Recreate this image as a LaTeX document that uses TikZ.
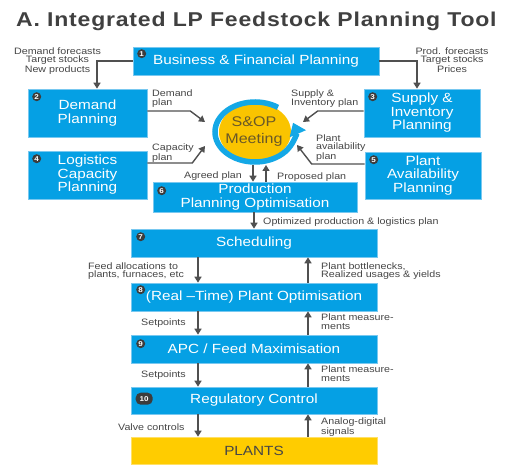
\documentclass[tikz,border=0pt]{standalone}
\usepackage{fontspec}
\setmainfont{Liberation Sans}[FakeStretch=1.15]
\newfontfamily\titlefont{Liberation Sans}[FakeStretch=1.15,LetterSpace=4]
\usetikzlibrary{arrows.meta,calc}
\definecolor{boxblue}{RGB}{5,160,228}
\definecolor{boxedge}{RGB}{120,200,240}
\definecolor{ringblue}{RGB}{20,168,230}
\definecolor{sopyellow}{RGB}{250,196,0}
\definecolor{plantyellow}{RGB}{255,204,0}
\definecolor{arrgray}{RGB}{80,80,80}
\definecolor{lblgray}{RGB}{70,70,70}
\definecolor{titlegray}{RGB}{64,64,64}
\definecolor{soptext}{RGB}{105,88,40}
\definecolor{badgegray}{RGB}{60,60,60}
\tikzset{
  box/.style={rectangle, fill=boxblue, draw=boxedge, line width=0.6pt, text=white,
    align=center, inner sep=0pt, font=\fontsize{13.3}{13.5}\selectfont},
  badge/.style={circle, fill=badgegray, text=white, inner sep=0pt, minimum size=9pt,
    font=\fontsize{7}{7}\selectfont\bfseries},
  lbl/.style={inner sep=0pt, text=lblgray, align=left, font=\fontsize{9.3}{8.5}\selectfont},
  arr/.style={draw=arrgray, line width=1.4pt, -{Triangle[length=6pt,width=7pt]}},
}
\begin{document}
\begin{tikzpicture}[x=1pt,y=-1pt]
\fill[white] (0,0) rectangle (509,473);
\useasboundingbox (0,0) rectangle (509,473);

% title
\node[anchor=base west, inner sep=0pt, text=titlegray, font=\titlefont\fontsize{20}{22}\selectfont\bfseries] (title) at (16,27) {A. Integrated LP Feedstock Planning Tool};

% boxes
\node[box, minimum width=246pt, minimum height=28pt] (b1) at (256,61) {Business \& Financial Planning};
\node[box, minimum width=119pt, minimum height=48pt] (b2) at (87.5,113) {Demand\\Planning};
\node[box, minimum width=119pt, minimum height=48pt] (b4) at (87.5,175) {Logistics\\Capacity\\Planning};
\node[box, minimum width=116pt, minimum height=48pt] (b3) at (422,113) {Supply \&\\Inventory\\Planning};
\node[box, minimum width=116pt, minimum height=47pt] (b5) at (423,175.5) {Plant\\Availability\\Planning};
\node[box, minimum width=204pt, minimum height=30pt] (b6) at (255,197) {Production\\Planning Optimisation};
\node[box, minimum width=246pt, minimum height=28pt] (b7) at (254,243) {Scheduling};
\node[box, minimum width=246pt, minimum height=28pt] (b8) at (254,297) {(Real –Time) Plant Optimisation};
\node[box, minimum width=246pt, minimum height=28pt] (b9) at (254,349) {APC / Feed Maximisation};
\node[box, minimum width=246pt, minimum height=27pt] (b10) at (254,400.5) {Regulatory Control};
\node[box, fill=plantyellow, draw=plantyellow!60, text=lblgray, minimum width=246pt, minimum height=27pt] (plants) at (254,450.5) {PLANTS};

% badges
\node[badge] (n1) at ([xshift=9pt,yshift=-7pt]b1.north west) {1};
\node[badge] (n2) at ([xshift=9pt,yshift=-8pt]b2.north west) {2};
\node[badge] (n4) at ([xshift=9pt,yshift=-8pt]b4.north west) {4};
\node[badge] (n3) at ([xshift=9pt,yshift=-8pt]b3.north west) {3};
\node[badge] (n5) at ([xshift=9pt,yshift=-8pt]b5.north west) {5};
\node[badge] (n6) at ([xshift=9pt,yshift=-9pt]b6.north west) {6};
\node[badge] (n7) at ([xshift=10pt,yshift=-8pt]b7.north west) {7};
\node[badge] (n8) at ([xshift=10pt,yshift=-7pt]b8.north west) {8};
\node[badge] (n9) at ([xshift=10pt,yshift=-9pt]b9.north west) {9};
\node[badge, rectangle, rounded corners=5pt, minimum size=0pt, minimum width=17pt, minimum height=12pt] (n10) at ([xshift=13.5pt,yshift=-12pt]b10.north west) {10};

% S&OP meeting
\coordinate (sopc) at (255,132);
\fill[sopyellow] (sopc) ellipse [x radius=36pt, y radius=29pt];
\draw[ringblue, line width=5.5pt, -{Triangle[width=17pt,length=12pt]}]
  ([shift={(55:40pt and 30pt)}]sopc) arc[start angle=55, end angle=378, x radius=40pt, y radius=30pt];
\node[inner sep=0pt, align=center, text=soptext, font=\fontsize{14}{17}\selectfont] (sop) at (254,131.5) {S\&OP\\Meeting};

% connectors top
\draw[arr] (b1.west) -| ([xshift=9.5pt]b2.north);
\draw[arr] (b1.east) -| ([xshift=-5pt]b3.north);
\node[lbl, align=center] (l1) at (57.5,61) {Demand forecasts\\Target stocks\\New products};
\node[lbl, align=center] (l2) at (452,60) {Prod. forecasts\\Target stocks\\Prices};

\coordinate (dpTip) at (205,122);
\coordinate (cpTip) at (205,146);
\coordinate (spTip) at (303,122);
\coordinate (paTip) at (297,145);
\draw[arr] ([yshift=2pt]b2.east) -- ++(43,0) -- (dpTip);
\draw[arr] ([yshift=12pt]b4.east) -- ++(45,0) -- (cpTip);
\draw[arr] ([yshift=2pt]b3.west) -- ++(-46,0) -- (spTip);
\draw[arr] ([yshift=11.5pt]b5.west) -- ++(-53,0) -- (paTip);
\node[lbl, anchor=west] (l3) at (152,98.5) {Demand\\plan};
\node[lbl, anchor=west] (l4) at (152,153) {Capacity\\plan};
\node[lbl, anchor=west] (l5) at (291,98.5) {Supply \&\\Inventory plan};
\node[lbl, anchor=west] (l6) at (316,148) {Plant\\availability\\plan};

% agreed / proposed
\coordinate (agTop) at (253,165);
\coordinate (prTop) at (266,165);
\draw[arr] (agTop) -- (agTop |- b6.north);
\draw[arr] (prTop |- b6.north) -- (prTop);
\node[lbl, anchor=east] (l7) at (242,176) {Agreed plan};
\node[lbl, anchor=west] (l8) at (277,177) {Proposed plan};

% optimized
\draw[arr] (b6.south -| b7.north) -- (b7.north);
\node[lbl, anchor=west] (l9) at (263,222) {Optimized production \& logistics plan};

% lower arrows
\coordinate (dn) at (198,0);
\coordinate (upx) at (308,0);
\draw[arr] (b7.south -| dn) -- (b8.north -| dn);
\draw[arr] (b8.north -| upx) -- (b7.south -| upx);
\draw[arr] (b8.south -| dn) -- (b9.north -| dn);
\draw[arr] (b9.north -| upx) -- (b8.south -| upx);
\draw[arr] (b9.south -| dn) -- (b10.north -| dn);
\draw[arr] (b10.north -| upx) -- (b9.south -| upx);
\draw[arr] (b10.south -| dn) -- (plants.north -| dn);
\draw[arr] (plants.north -| upx) -- (b10.south -| upx);

\node[lbl, anchor=west] (l10) at (88,271) {Feed allocations to\\plants, furnaces, etc};
\node[lbl, anchor=west] (l11) at (321,271) {Plant bottlenecks,\\Realized usages \& yields};
\node[lbl, anchor=west] (l12) at (141,323) {Setpoints};
\node[lbl, anchor=west] (l13) at (321,321.5) {Plant measure-\\ments};
\node[lbl, anchor=west] (l14) at (141,375) {Setpoints};
\node[lbl, anchor=west] (l15) at (321,373.5) {Plant measure-\\ments};
\node[lbl, anchor=west] (l16) at (118,427) {Valve controls};
\node[lbl, anchor=west] (l17) at (321,427) {Analog-digital\\signals};
\end{tikzpicture}
\end{document}
